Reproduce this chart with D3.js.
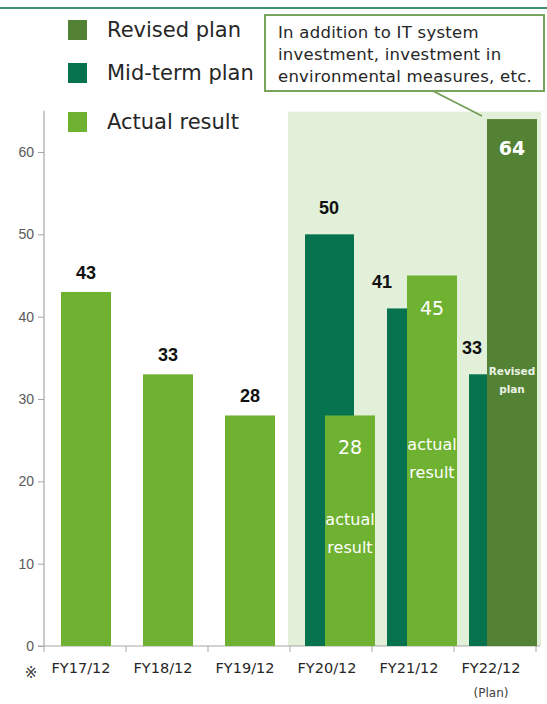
<!DOCTYPE html>
<html>
<head>
  <meta charset="UTF-8" />
  <script src="https://d3js.org/d3.v7.min.js"></script>
  <style>
    body { margin: 0; background: white; }
    text { font-family: "DejaVu Sans", "Noto Sans", sans-serif; }
  </style>
</head>
<body>
<div id="chart"></div>
<script>
  // data
  var years = ["FY17/12", "FY18/12", "FY19/12", "FY20/12", "FY21/12", "FY22/12"];
  var actual = [43, 33, 28, 28, 45, null];
  var midTerm = [null, null, null, 50, 41, 33];
  var revised = [null, null, null, null, null, 64];
  var yTicks = [0, 10, 20, 30, 40, 50, 60];

  var colActual = "#6fb232", colMid = "#06734e", colRevised = "#548235";

  const svg = d3.select("#chart")
    .append("svg")
    .attr("width", 547)
    .attr("height", 704);

  var x = d3.scaleBand().domain(years).range([44, 536]);
  var y = d3.scaleLinear().domain([0, 60]).range([646, 152]);
  var bw = x.bandwidth();

  // top rule
  svg.append("line").attr("x1", 0).attr("x2", 547).attr("y1", 8).attr("y2", 8)
    .attr("stroke", "#3f8f6c").attr("stroke-width", 2);

  // shaded plan area
  svg.append("rect")
    .attr("x", x("FY20/12") - 2).attr("y", y(64.9))
    .attr("width", 541 - x("FY20/12") + 2).attr("height", y(0) - y(64.9))
    .attr("fill", "#e2efd9");

  // axes
  var yAxis = d3.axisLeft(y).tickValues(yTicks).tickSize(6).tickSizeOuter(0);
  var gy = svg.append("g").attr("transform", "translate(44,0)").call(yAxis);
  gy.select(".domain").remove();
  svg.append("line").attr("x1", 44).attr("x2", 44).attr("y1", y(65)).attr("y2", y(0))
    .attr("stroke", "#a6a6a6").attr("stroke-width", 1.2);
  gy.selectAll(".tick line").attr("stroke", "#a6a6a6");
  gy.selectAll(".tick text").attr("fill", "#595959").attr("font-size", 14).attr("x", -10)
    .style("font-family", "'Liberation Sans', Arial, sans-serif");

  svg.append("line").attr("x1", 38).attr("x2", 540).attr("y1", y(0)).attr("y2", y(0))
    .attr("stroke", "#a6a6a6").attr("stroke-width", 1.2);
  svg.selectAll(".xtick")
    .data(years.concat(["end"]))
    .enter().append("line")
    .attr("x1", (d, i) => 44 + i * bw).attr("x2", (d, i) => 44 + i * bw)
    .attr("y1", y(0)).attr("y2", y(0) + 6)
    .attr("stroke", "#a6a6a6");

  svg.selectAll(".xlab")
    .data(years)
    .enter().append("text")
    .attr("x", d => x(d) + bw / 2 - 4)
    .attr("y", 673)
    .attr("text-anchor", "middle")
    .attr("font-size", 14.5)
    .attr("fill", "#262626")
    .text(d => d);
  svg.append("text").attr("x", 31).attr("y", 678).attr("text-anchor", "middle")
    .attr("font-size", 15).attr("fill", "#404040").text("※");
  svg.append("text").attr("x", x("FY22/12") + bw / 2 - 4).attr("y", 697).attr("text-anchor", "middle")
    .attr("font-size", 12).attr("fill", "#404040").text("(Plan)");

  // bar offsets inside each band
  function actualX(i) { return i < 3 ? x(years[i]) + 17 : x(years[i]) + 35; }
  var midOff = 15, barW = 49;

  // mid-term plan bars
  svg.selectAll(".mid")
    .data(midTerm.map((v, i) => ({ v: v, i: i })).filter(d => d.v != null))
    .enter().append("rect")
    .attr("x", d => x(years[d.i]) + midOff)
    .attr("y", d => y(d.v))
    .attr("width", barW)
    .attr("height", d => y(0) - y(d.v))
    .attr("fill", colMid);

  // actual bars
  svg.selectAll(".act")
    .data(actual.map((v, i) => ({ v: v, i: i })).filter(d => d.v != null))
    .enter().append("rect")
    .attr("x", d => actualX(d.i))
    .attr("y", d => y(d.v))
    .attr("width", 50)
    .attr("height", d => y(0) - y(d.v))
    .attr("fill", colActual);

  // revised bar
  svg.selectAll(".rev")
    .data(revised.map((v, i) => ({ v: v, i: i })).filter(d => d.v != null))
    .enter().append("rect")
    .attr("x", d => x(years[d.i]) + 33)
    .attr("y", d => y(d.v))
    .attr("width", 50)
    .attr("height", d => y(0) - y(d.v))
    .attr("fill", colRevised);

  var numFont = "'Liberation Sans', Arial, sans-serif";

  // black value labels above bars
  actual.forEach(function (v, i) {
    if (v == null || i > 2) return;
    svg.append("text").attr("x", actualX(i) + 25).attr("y", y(v) - 13)
      .attr("text-anchor", "middle").attr("font-size", 18).attr("font-weight", "bold")
      .style("font-family", numFont).attr("fill", "#111").text(v);
  });
  midTerm.forEach(function (v, i) {
    if (v == null) return;
    var cx = i == 3 ? x(years[i]) + midOff + 24 : (i == 4 ? x(years[i]) - 5 + midOff : x(years[i]) + midOff + 3);
    svg.append("text").attr("x", cx).attr("y", y(v) - 20)
      .attr("text-anchor", "middle").attr("font-size", 18).attr("font-weight", "bold")
      .style("font-family", numFont).attr("fill", "#111").text(v);
  });

  // white labels inside bars
  actual.forEach(function (v, i) {
    if (v == null || i < 3) return;
    svg.append("text").attr("x", actualX(i) + 25).attr("y", y(v) + 39)
      .attr("text-anchor", "middle").attr("font-size", 19)
      .attr("fill", "white").text(v);
  });
  revised.forEach(function (v, i) {
    if (v == null) return;
    svg.append("text").attr("x", x(years[i]) + 58).attr("y", y(v) + 36)
      .attr("text-anchor", "middle").attr("font-size", 19).attr("font-weight", "bold")
      .attr("fill", "white").text(v);
  });

  function twoLines(cx, y1, lines, size, weight) {
    lines.forEach(function (t, k) {
      svg.append("text").attr("x", cx).attr("y", y1 + k * (size + 12))
        .attr("text-anchor", "middle").attr("font-size", size).attr("font-weight", weight)
        .attr("fill", "white").text(t);
    });
  }
  twoLines(actualX(3) + 25, 525, ["actual", "result"], 16, "normal");
  twoLines(actualX(4) + 25, 450, ["actual", "result"], 16, "normal");
  svg.append("text").attr("x", x("FY22/12") + 58).attr("y", 375).attr("text-anchor", "middle")
    .attr("font-size", 10.5).attr("font-weight", "bold").attr("fill", "#eaf2e4").text("Revised");
  svg.append("text").attr("x", x("FY22/12") + 58).attr("y", 393).attr("text-anchor", "middle")
    .attr("font-size", 10.5).attr("font-weight", "bold").attr("fill", "#eaf2e4").text("plan");

  // legend
  var legend = [["Revised plan", colRevised], ["Mid-term plan", colMid], ["Actual result", colActual]];
  var legendY = [30, 73, 122];
  legend.forEach(function (l, i) {
    svg.append("rect").attr("x", 68).attr("y", legendY[i] - 10).attr("width", 19).attr("height", 20)
      .attr("fill", l[1]);
    svg.append("text").attr("x", 107).attr("y", legendY[i] + 7)
      .attr("font-size", 21).attr("fill", "#262626").text(l[0]);
  });

  // callout
  svg.append("line").attr("x1", 433).attr("y1", 91).attr("x2", 482).attr("y2", 116)
    .attr("stroke", "#6f9b50").attr("stroke-width", 1.5);
  svg.append("rect").attr("x", 265).attr("y", 15).attr("width", 279).attr("height", 76)
    .attr("fill", "white").attr("stroke", "#79a45c").attr("stroke-width", 2);
  ["In addition to IT system", "investment, investment in", "environmental measures, etc."]
    .forEach(function (t, k) {
      svg.append("text").attr("x", 278).attr("y", 38 + k * 22)
        .attr("font-size", 16.5).attr("letter-spacing", 0.25).attr("fill", "#262626").text(t);
    });
</script>
</body>
</html>
